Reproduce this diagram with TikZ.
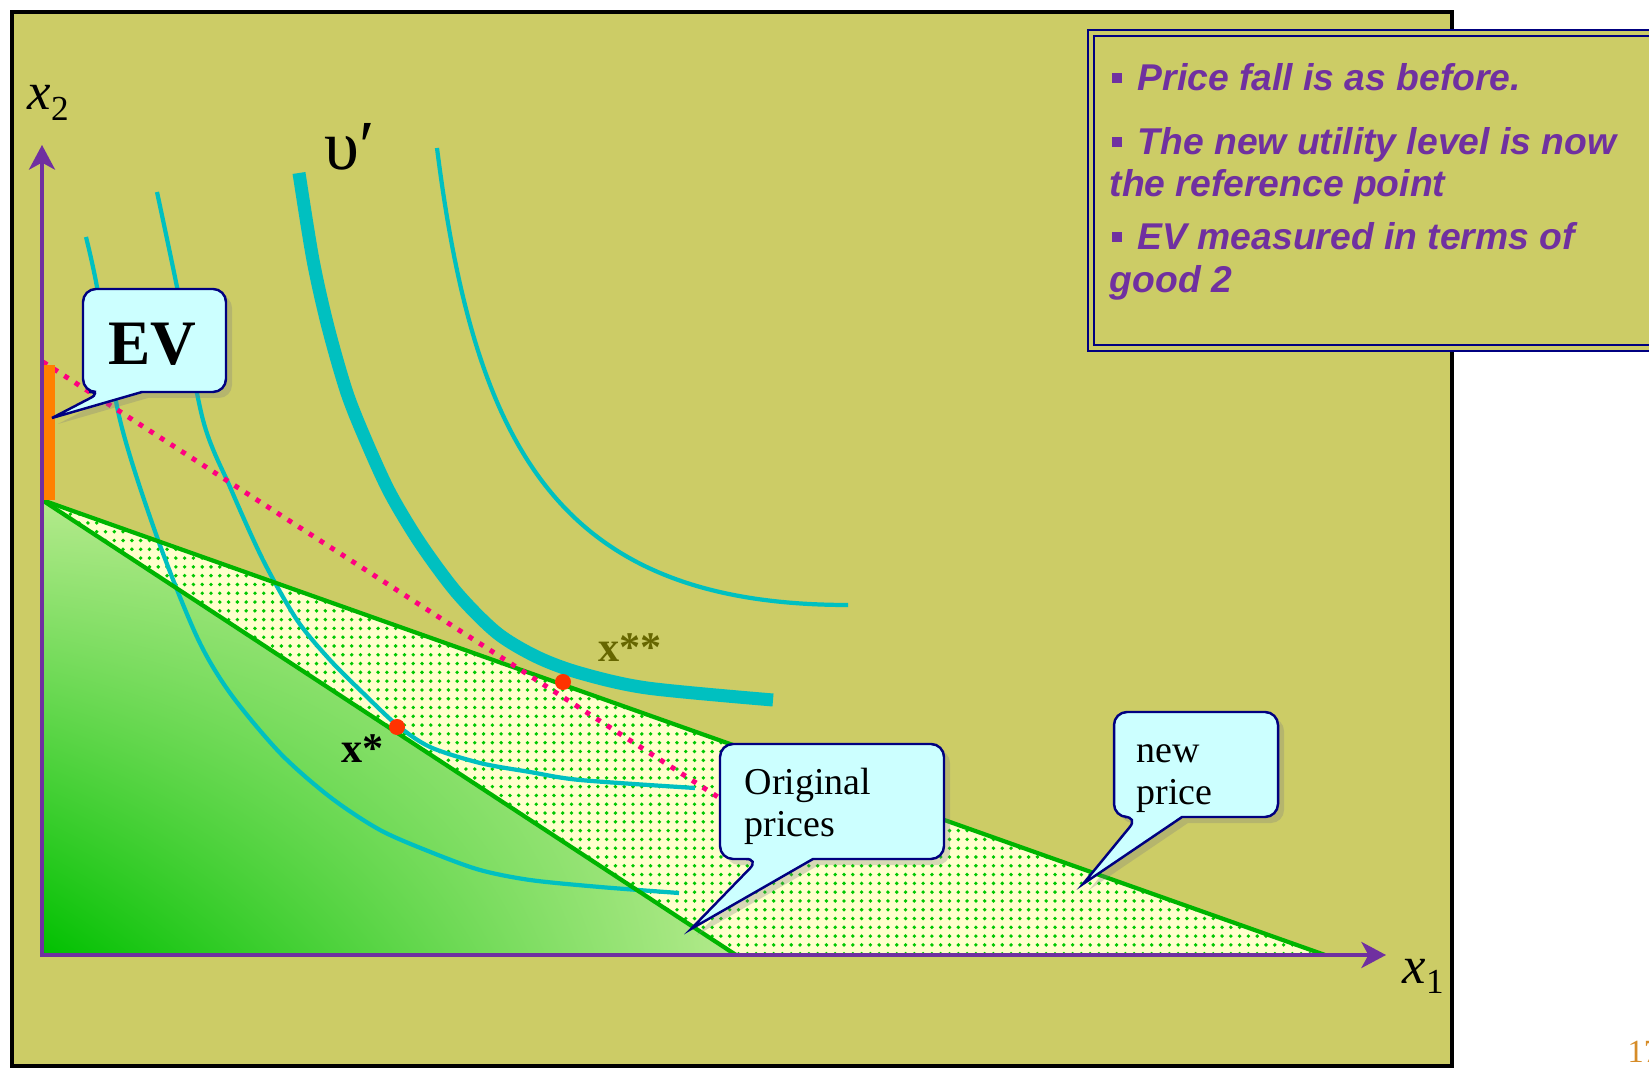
\documentclass[tikz,border=0pt]{standalone}
\usepackage{fontspec}
\setmainfont{Liberation Serif}
\newfontfamily\notefont{Liberation Sans}
\usetikzlibrary{arrows.meta,patterns.meta,shadows,shadings}

\definecolor{slidebg}{RGB}{204,204,102}
\definecolor{axispurple}{RGB}{112,48,160}
\definecolor{setdark}{RGB}{0,192,0}
\definecolor{setlight}{RGB}{180,234,140}
\definecolor{setpale}{RGB}{255,255,204}
\definecolor{dotgreen}{RGB}{0,200,0}
\definecolor{budgetgreen}{RGB}{0,180,0}
\definecolor{iccyan}{RGB}{0,192,192}
\definecolor{evmagenta}{RGB}{255,0,128}
\definecolor{evorange}{RGB}{255,128,0}
\definecolor{ptred}{RGB}{255,51,0}
\definecolor{callfill}{RGB}{204,255,255}
\definecolor{callnavy}{RGB}{0,0,128}
\definecolor{notepurple}{RGB}{112,48,160}
\definecolor{xolive}{RGB}{102,102,0}
\definecolor{pageorange}{RGB}{214,140,40}

\newcommand{\axlab}[2]{\textit{#1}\raisebox{-3pt}{\fontsize{10pt}{10pt}\selectfont #2}}
\newcommand{\sqbullet}{\makebox[0.26cm][l]{\rule[0.08cm]{0.1cm}{0.1cm}}}

\begin{document}
\begin{tikzpicture}[x=0.01cm,y=-0.01cm]

% --- Styles ---
\tikzset{
    slideframe/.style={fill=slidebg, draw=black, line width=1.4pt},
    axis/.style={draw=axispurple, line width=1.2pt, -{Stealth[length=7pt, width=7.4pt, inset=2pt]}},
    oldset/.style={lower left=setdark, upper left=setlight, upper right=setlight, lower right=setlight},
    gainset/.style={fill=setpale, postaction={pattern={Dots[distance=2.5pt, radius=0.55pt]}, pattern color=dotgreen}},
    budget/.style={draw=budgetgreen, line width=1.2pt},
    icurve/.style={draw=iccyan, line width=1.2pt},
    mainicurve/.style={draw=iccyan, line width=3.7pt},
    evline/.style={draw=evmagenta, line width=1.4pt, dash pattern=on 1.4pt off 2.2pt},
    evbar/.style={fill=evorange},
    point/.style={circle, fill=ptred, inner sep=0pt, minimum size=0.16cm},
    lbl/.style={inner sep=0pt, anchor=base west},
    callout/.style={fill=callfill, draw=callnavy, line width=0.7pt,
        drop shadow={shadow xshift=0.06cm, shadow yshift=-0.06cm, opacity=0.3}},
    calltext/.style={lbl, font=\fontsize{10.8pt}{12pt}\selectfont},
    notebox/.style={fill=slidebg, draw=callnavy, line width=0.6pt},
    notetext/.style={lbl, text=notepurple, font=\notefont\bfseries\itshape\fontsize{10.6pt}{12pt}\selectfont}
}

\useasboundingbox (0,0) rectangle (1649,1068);
\clip (0,0) rectangle (1649,1068);
\fill[white] (0,0) rectangle (1649,1068);

% --- Slide frame ---
\draw[slideframe] (12,12) rectangle (1452,1066);

% --- Budget sets ---
\coordinate (O) at (42,955);
\coordinate (Bv) at (42,500);
\coordinate (Bold) at (736,955);
\coordinate (Bnew) at (1325,955);

\shade[oldset] (Bv) -- (Bold) -- (O) -- cycle;
\path[gainset] (Bv) -- (Bnew) -- (Bold) -- cycle;

% --- Indifference curves ---
\draw[icurve] plot[smooth] coordinates {(86,237) (97,287) (120,420) (157,537) (197,637)
    (230,693) (280,753) (330,797) (380,830) (433,853) (480,870) (530,880) (600,887) (679,893)};
\draw[icurve] plot[smooth] coordinates {(157,192) (177,287) (203,420) (230,487) (263,560)
    (297,620) (330,660) (363,693) (397,725) (430,747) (480,763) (530,772) (580,780) (695,788)};
\draw[mainicurve] plot[smooth] coordinates {(299,173) (313,260) (328,327) (347,393) (367,443)
    (390,493) (420,543) (457,593) (497,633) (537,657) (580,673) (647,688) (773,700)};
\draw[icurve] (437,148) .. controls (475,450) and (560,605) .. (848,605);

% --- Budget lines ---
\draw[budget] (Bv) -- (Bold);
\draw[budget] (Bv) -- (Bnew);

% --- EV line at original prices ---
\coordinate (evtop) at (43,362);
\coordinate (evend) at (735,808);
\draw[evline] (evtop) -- (evend);

% --- Axes ---
\coordinate (ytop) at (42,145);
\coordinate (xend) at (1386,955);
\draw[axis] (42,957) -- (ytop);
\draw[axis] (40,955) -- (xend);
\fill[evbar] (44,365) rectangle (55,500);

\node[lbl, font=\fontsize{15pt}{15pt}\selectfont] (x2lab) at (27,110) {\axlab{x}{2}};
\node[lbl, font=\fontsize{15pt}{15pt}\selectfont] (x1lab) at (1402,983) {\axlab{x}{1}};

% --- Optima ---
\node[point] (xstar) at (397,727) {};
\node[point] (xstarstar) at (563,682) {};
\node[lbl, font=\bfseries\fontsize{12pt}{12pt}\selectfont] (xstarlab) at (341,763) {x*};
\node[lbl, text=xolive, font=\bfseries\fontsize{12pt}{12pt}\selectfont] (xsslab) at (598,662) {x**};
\node[lbl, font=\fontsize{20pt}{20pt}\selectfont] (ulab) at (324,170) {υ′};

% --- Callouts ---
\draw[callout] (142,392) [rounded corners=0.13cm] -- (226,392) -- (226,289) -- (83,289)
    -- (83,392) -- (102,392) [sharp corners] -- (52,418) -- cycle;
\node[lbl, font=\bfseries\fontsize{18pt}{18pt}\selectfont] (evlab) at (108,365) {EV};

\draw[callout] (813,859) [rounded corners=0.13cm] -- (944,859) -- (944,744) -- (720,744)
    -- (720,859) -- (759,859) [sharp corners] -- (691,929) -- cycle;
\node[calltext] (origA) at (744,795) {Original};
\node[calltext] (origB) at (744,837) {prices};

\draw[callout] (1182,817) [rounded corners=0.13cm] -- (1278,817) -- (1278,712) -- (1114,712)
    -- (1114,817) -- (1138,817) [sharp corners] -- (1083,884) -- cycle;
\node[calltext] (newA) at (1136,763) {new};
\node[calltext] (newB) at (1136,805) {price};

% --- Note box ---
\path[notebox] (1088,30) rectangle (1700,351);
\draw[notebox, fill=none] (1094,36) rectangle (1700,345);
\node[notetext] (noteA) at (1111,91) {\sqbullet Price fall is as before.};
\node[notetext] (noteB) at (1111,155) {\sqbullet The new utility level is now};
\node[notetext] (noteC) at (1109,197) {the reference point};
\node[notetext] (noteD) at (1111,250) {\sqbullet EV measured in terms of};
\node[notetext] (noteE) at (1109,293) {good 2};

% --- Page number ---
\node[lbl, text=pageorange, font=\fontsize{9.2pt}{9.2pt}\selectfont] (pagenum) at (1627,1062) {17};

\end{tikzpicture}
\end{document}
